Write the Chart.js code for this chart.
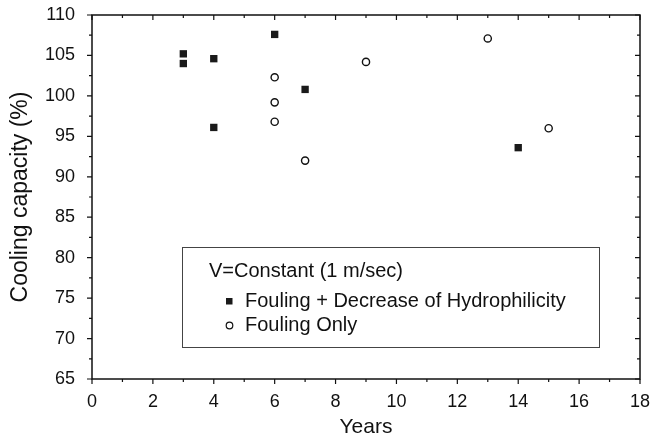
<!DOCTYPE html>
<html>
<head>
<meta charset="utf-8">
<script src="https://cdn.jsdelivr.net/npm/chart.js@4.4.1/dist/chart.umd.min.js"></script>
<style>
  html, body { margin: 0; padding: 0; background: #fff; }
  #wrap { width: 650px; height: 440px; }
</style>
</head>
<body>
<div id="wrap"><canvas id="chart" width="650" height="440"></canvas></div>
<script>
// data
const hydroYears = [3, 3, 4, 4, 6, 7, 14];
const hydroCapacity = [105.2, 104.0, 104.6, 96.1, 107.6, 100.8, 93.6];
const foulingYears = [6, 6, 6, 7, 9, 13, 15];
const foulingCapacity = [102.3, 99.2, 96.8, 92.0, 104.2, 107.1, 96.0];

const xTicks = [0, 2, 4, 6, 8, 10, 12, 14, 16, 18];
const yTicks = [65, 70, 75, 80, 85, 90, 95, 100, 105, 110];

const legendTitle = 'V=Constant (1 m/sec)';
const seriesNames = ['Fouling + Decrease of Hydrophilicity', 'Fouling Only'];

const fontFamily = '"Liberation Sans", Arial, Helvetica, sans-serif';
const ink = '#111';

function toPoints(xs, ys) {
    return xs.map((x, i) => ({ x: x, y: ys[i] }));
}

// keep the plot area where the figure has it
function noScalePadding(scale) {
    scale.paddingLeft = 0;
    scale.paddingRight = 0;
    scale.paddingTop = 0;
    scale.paddingBottom = 0;
}

// frame, mirrored ticks and the boxed legend
const framePlugin = {
    id: 'frame',
    afterDraw(chart) {
        const ctx = chart.ctx;
        const area = chart.chartArea;
        const xs = chart.scales.x;
        const ys = chart.scales.y;
        ctx.save();
        ctx.strokeStyle = ink;
        ctx.lineWidth = 1.5;
        ctx.strokeRect(area.left, area.top, area.right - area.left, area.bottom - area.top);

        ctx.lineWidth = 1.2;
        ctx.beginPath();
        for (let v = 0; v <= 18; v++) {
            const px = xs.getPixelForValue(v);
            const len = v % 2 === 0 ? 5 : 3;
            ctx.moveTo(px, area.bottom);
            ctx.lineTo(px, area.bottom + len);
            ctx.moveTo(px, area.top);
            ctx.lineTo(px, area.top + len);
        }
        for (let v = 65; v <= 110; v += 2.5) {
            const py = ys.getPixelForValue(v);
            const len = v % 5 === 0 ? 5 : 3;
            ctx.moveTo(area.left, py);
            ctx.lineTo(area.left - len, py);
            ctx.moveTo(area.right, py);
            ctx.lineTo(area.right - len, py);
        }
        ctx.stroke();

        // legend box inside the plot
        const bx = 182, by = 247, bw = 417, bh = 100;
        ctx.strokeStyle = '#444';
        ctx.lineWidth = 1;
        ctx.strokeRect(bx + 0.5, by + 0.5, bw, bh);

        ctx.fillStyle = ink;
        ctx.font = '20px ' + fontFamily;
        ctx.textBaseline = 'middle';
        ctx.textAlign = 'left';
        ctx.fillText(legendTitle, 209, 271);

        const rows = [301, 325];
        chart.data.datasets.forEach((ds, i) => {
            const cy = rows[i];
            if (ds.pointStyle === 'rect') {
                ctx.fillStyle = ds.backgroundColor;
                ctx.fillRect(226, cy - 3, 6.5, 6.5);
            } else {
                ctx.beginPath();
                ctx.strokeStyle = ds.borderColor;
                ctx.lineWidth = 1.2;
                ctx.arc(229.5, cy + 0.5, 3.3, 0, Math.PI * 2);
                ctx.stroke();
            }
            ctx.fillStyle = ink;
            ctx.fillText(ds.label, 245, cy);
        });
        ctx.restore();
    }
};

const ctx = document.getElementById('chart').getContext('2d');
const chart = new Chart(ctx, {
    type: 'scatter',
    data: {
        datasets: [
            {
                label: seriesNames[0],
                data: toPoints(hydroYears, hydroCapacity),
                pointStyle: 'rect',
                pointRadius: 5.2,
                backgroundColor: '#1a1a1a',
                borderColor: '#1a1a1a',
                borderWidth: 0
            },
            {
                label: seriesNames[1],
                data: toPoints(foulingYears, foulingCapacity),
                pointStyle: 'circle',
                pointRadius: 3.6,
                backgroundColor: '#fff',
                borderColor: ink,
                borderWidth: 1.4
            }
        ]
    },
    options: {
        responsive: false,
        animation: false,
        layout: { padding: { left: 0, top: 15, right: 10, bottom: 0 } },
        plugins: {
            legend: { display: false },
            tooltip: { enabled: false }
        },
        scales: {
            x: {
                type: 'linear',
                min: 0,
                max: 18,
                afterBuildTicks: (scale) => { scale.ticks = xTicks.map(v => ({ value: v })); },
                afterFit: (scale) => { scale.height = 61; noScalePadding(scale); },
                grid: { display: false, drawTicks: false },
                border: { display: false },
                ticks: {
                    padding: 12,
                    color: ink,
                    font: { family: fontFamily, size: 18 }
                },
                title: {
                    display: true,
                    text: 'Years',
                    color: ink,
                    padding: { top: 0, bottom: 0 },
                    font: { family: fontFamily, size: 21 }
                }
            },
            y: {
                type: 'linear',
                min: 65,
                max: 110,
                afterBuildTicks: (scale) => { scale.ticks = yTicks.map(v => ({ value: v })); },
                afterFit: (scale) => { scale.width = 92; noScalePadding(scale); },
                grid: { display: false, drawTicks: false },
                border: { display: false },
                ticks: {
                    padding: 17,
                    color: ink,
                    font: { family: fontFamily, size: 18 }
                },
                title: {
                    display: true,
                    text: 'Cooling capacity (%)',
                    color: ink,
                    padding: { top: 7, bottom: 0 },
                    font: { family: fontFamily, size: 23 }
                }
            }
        }
    },
    plugins: [framePlugin]
});
</script>
</body>
</html>
